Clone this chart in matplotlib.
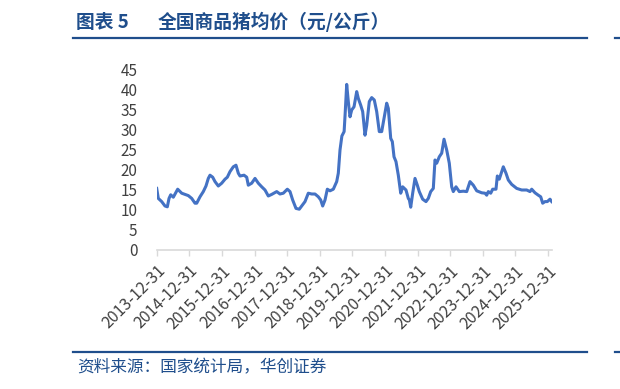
import pandas as pd
import matplotlib
matplotlib.use("Agg")
import matplotlib.pyplot as plt

plt.rcParams['font.family'] = ['Noto Sans CJK SC', 'DejaVu Sans']

# 全国商品猪均价（元/公斤），readings
dates = [
    "2013-12-31", "2014-01-18", "2014-02-25", "2014-04-03", "2014-04-29", "2014-05-18",
    "2014-06-06", "2014-07-05", "2014-08-23", "2014-10-07", "2014-11-13", "2014-12-20",
    "2015-01-27", "2015-03-05", "2015-03-24", "2015-04-30", "2015-06-06", "2015-07-06",
    "2015-08-01", "2015-08-20", "2015-09-19", "2015-10-15", "2015-11-21", "2015-12-29",
    "2016-02-04", "2016-03-01", "2016-03-31", "2016-05-07", "2016-06-06", "2016-07-02",
    "2016-07-21", "2016-09-04", "2016-10-04", "2016-10-22", "2016-11-29", "2017-01-05",
    "2017-02-11", "2017-03-21", "2017-04-27", "2017-06-03", "2017-07-11", "2017-09-05",
    "2017-10-12", "2017-11-18", "2018-01-02", "2018-02-01", "2018-03-03", "2018-04-09",
    "2018-05-16", "2018-06-12", "2018-07-19", "2018-08-25", "2018-10-02", "2018-11-08",
    "2018-12-15", "2019-01-11", "2019-02-02", "2019-02-28", "2019-03-26", "2019-04-25",
    "2019-06-01", "2019-07-09", "2019-07-27", "2019-08-15", "2019-09-05", "2019-09-30",
    "2019-10-11", "2019-10-29", "2019-11-16", "2019-12-05", "2019-12-24", "2020-01-19",
    "2020-02-18", "2020-03-07", "2020-04-03", "2020-04-25", "2020-05-21", "2020-06-09",
    "2020-07-08", "2020-08-04", "2020-09-02", "2020-09-29", "2020-10-28", "2020-11-24",
    "2020-12-20", "2021-01-19", "2021-02-06", "2021-03-05", "2021-03-23", "2021-04-11",
    "2021-05-03", "2021-05-29", "2021-06-25", "2021-07-17", "2021-08-23", "2021-09-18",
    "2021-09-30", "2021-10-15", "2021-11-06", "2021-12-02", "2021-12-28", "2022-01-19",
    "2022-02-26", "2022-04-04", "2022-04-30", "2022-05-27", "2022-06-25", "2022-07-14",
    "2022-08-02", "2022-08-31", "2022-09-27", "2022-10-23", "2022-11-22", "2022-12-21",
    "2023-01-17", "2023-02-04", "2023-03-06", "2023-04-12", "2023-05-27", "2023-07-04",
    "2023-08-10", "2023-09-16", "2023-10-24", "2023-12-19", "2024-01-25", "2024-02-13",
    "2024-03-02", "2024-03-29", "2024-04-20", "2024-05-27", "2024-06-11", "2024-07-03",
    "2024-07-30", "2024-08-17", "2024-09-16", "2024-10-12", "2024-11-19", "2025-01-14",
    "2025-03-11", "2025-05-06", "2025-06-12", "2025-07-01", "2025-08-07", "2025-09-13",
    "2025-10-10", "2025-11-01", "2025-11-27", "2025-12-23", "2026-01-22", "2026-02-10",
]
prices = [
    15.4, 12.9, 12.1, 11.0, 10.8, 12.9,
    13.8, 13.2, 15.2, 14.2, 13.9, 13.6,
    12.9, 11.7, 11.7, 13.3, 14.6, 16.0,
    17.9, 18.7, 18.2, 17.1, 16.0, 16.7,
    17.7, 18.2, 19.6, 20.8, 21.2, 19.2,
    18.5, 18.7, 18.2, 16.2, 16.7, 17.9,
    16.7, 15.8, 15.0, 13.5, 13.9, 14.6,
    14.0, 14.2, 15.2, 14.6, 12.5, 10.4,
    10.2, 11.0, 12.1, 14.2, 14.0, 14.0,
    13.3, 12.5, 11.0, 12.5, 15.2, 14.8,
    15.2, 17.1, 19.2, 25.0, 28.5, 29.6,
    33.8, 41.4, 37.1, 33.3, 35.0, 35.8,
    39.6, 37.9, 36.2, 34.6, 28.7, 31.2,
    37.1, 38.1, 37.5, 34.6, 29.6, 29.6,
    32.9, 36.7, 35.4, 27.9, 27.1, 23.3,
    22.1, 18.7, 14.2, 15.8, 15.0, 12.9,
    12.5, 10.7, 14.2, 17.9, 16.2, 14.6,
    12.7, 12.1, 12.9, 14.6, 15.4, 22.5,
    21.7, 23.3, 24.2, 27.7, 25.0, 21.7,
    15.8, 14.6, 15.8, 14.6, 14.7, 14.6,
    17.1, 16.2, 14.8, 14.3, 14.2, 13.7,
    14.6, 14.2, 15.2, 15.2, 18.5, 17.7,
    19.6, 20.8, 19.2, 17.5, 16.4, 15.4,
    15.0, 15.0, 14.6, 15.2, 14.3, 13.7,
    13.3, 11.7, 12.1, 12.1, 12.7, 12.1,
]
tick_years = list(range(2013, 2026))
y_ticks = list(range(0, 50, 5))

x = pd.to_datetime(dates)
navy = "#1F4E8C"

fig = plt.figure(figsize=(6.2, 3.89), dpi=100)
ax = fig.add_axes([156.7 / 620, 1 - 250 / 389, (551.7 - 156.7) / 620, 180 / 389])

ax.plot(x, prices, color="#4472C4", lw=2.2, solid_joinstyle="round")

ax.set_ylim(0, 45)
ax.set_yticks(y_ticks)
ax.set_xlim(x[0], x[-1])
ticks = [pd.Timestamp(f"{yr}-12-31") for yr in tick_years]
ax.set_xticks(ticks)
ax.set_xticklabels([t.strftime("%Y-%m-%d") for t in ticks], rotation=45,
                   ha="right", rotation_mode="anchor")

for s in ["top", "right", "left"]:
    ax.spines[s].set_visible(False)
ax.spines["bottom"].set_color("#D9D9D9")
ax.spines["bottom"].set_linewidth(1.2)
ax.tick_params(axis="x", length=4, width=1.0, color="#D9D9D9", pad=5,
               labelsize=11.5, labelcolor="#404040")
ax.tick_params(axis="y", length=0, pad=14, labelsize=11, labelcolor="#404040")

# header / footer
fig.text(76 / 620, 1 - 22 / 389, "图表 5", color=navy, fontsize=13.5,
         fontweight="bold", va="center")
fig.text(158 / 620, 1 - 22 / 389, "全国商品猪均价（元/公斤）", color=navy,
         fontsize=13.5, fontweight="bold", va="center")
fig.add_artist(plt.Line2D([73 / 620, 587 / 620], [1 - 37.7 / 389] * 2,
                          color=navy, lw=1.6))
fig.add_artist(plt.Line2D([615 / 620, 1], [1 - 37.7 / 389] * 2, color=navy, lw=1.6))
fig.add_artist(plt.Line2D([73 / 620, 587 / 620], [1 - 351.7 / 389] * 2,
                          color=navy, lw=1.6))
fig.add_artist(plt.Line2D([615 / 620, 1], [1 - 351.7 / 389] * 2, color=navy, lw=1.6))
fig.text(77 / 620, 1 - 368 / 389, "资料来源：国家统计局，华创证券", color=navy,
         fontsize=12, va="center", style="italic")

fig.savefig("out.png", dpi=100)
